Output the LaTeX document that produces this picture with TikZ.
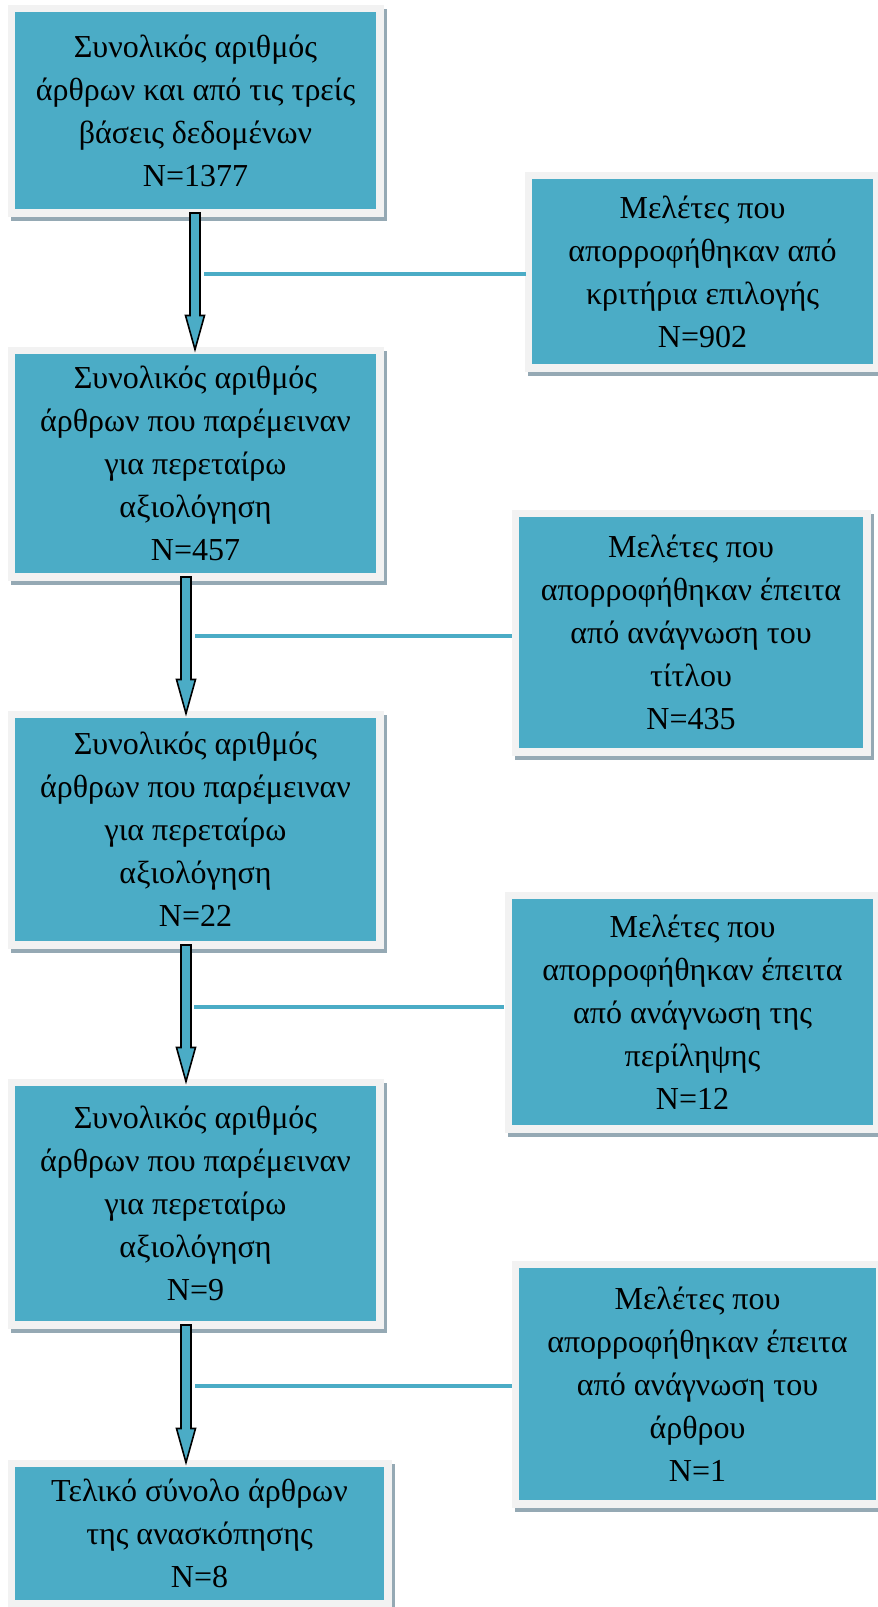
\documentclass[tikz,border=0pt]{standalone}
\usepackage{fontspec}
\setmainfont{Liberation Serif}
\usetikzlibrary{calc}
\definecolor{tealbox}{HTML}{4BACC6}
\definecolor{framegray}{HTML}{F2F2F2}
\definecolor{shadowc}{HTML}{95A9B4}
\begin{document}
\begin{tikzpicture}[x=1pt,y=-1pt,
  box/.style={rectangle, inner sep=0pt, outer sep=0pt, fill=tealbox, align=center,
    font=\fontsize{32}{43}\selectfont,
    preaction={fill=shadowc, draw=shadowc, line width=15pt, transform canvas={shift={(3.5pt,-4.5pt)}}},
    preaction={draw=framegray, line width=15pt}},
  barrow/.style={fill=tealbox, draw=black, line width=1.6pt, line join=miter},
  link/.style={draw=tealbox, line width=3.6pt}]
\useasboundingbox (0,0) rectangle (878,1607);
\fill[white] (0,0) rectangle (878,1607);

% left column
\node[box, minimum width=361pt, minimum height=197pt] (L1) at (195.5,110.5)
  {Συνολικός αριθμός\\άρθρων και από τις τρείς\\βάσεις δεδομένων\\N=1377};
\node[box, minimum width=361pt, minimum height=219pt] (L2) at (195.5,463.5)
  {Συνολικός αριθμός\\άρθρων που παρέμειναν\\για περεταίρω\\αξιολόγηση\\N=457};
\node[box, minimum width=361pt, minimum height=223pt] (L3) at (195.5,829.5)
  {Συνολικός αριθμός\\άρθρων που παρέμειναν\\για περεταίρω\\αξιολόγηση\\N=22};
\node[box, minimum width=361pt, minimum height=235pt] (L4) at (195.5,1203.5)
  {Συνολικός αριθμός\\άρθρων που παρέμειναν\\για περεταίρω\\αξιολόγηση\\N=9};
\node[box, minimum width=369pt, minimum height=133pt] (L5) at (199.5,1533.5)
  {Τελικό σύνολο άρθρων\\της ανασκόπησης\\N=8};

% right column
\node[box, minimum width=341pt, minimum height=185pt] (R1) at (702.5,271.5)
  {Μελέτες που\\απορροφήθηκαν από\\κριτήρια επιλογής\\N=902};
\node[box, minimum width=344pt, minimum height=231pt] (R2) at (691,632.5)
  {Μελέτες που\\απορροφήθηκαν έπειτα\\από ανάγνωση του\\τίτλου\\N=435};
\node[box, minimum width=361pt, minimum height=226pt] (R3) at (692.5,1012)
  {Μελέτες που\\απορροφήθηκαν έπειτα\\από ανάγνωση της\\περίληψης\\N=12};
\node[box, minimum width=357pt, minimum height=232pt] (R4) at (697.5,1384)
  {Μελέτες που\\απορροφήθηκαν έπειτα\\από ανάγνωση του\\άρθρου\\N=1};

% block arrows between left boxes
\newcommand{\blockarr}[3]{%
  \draw[barrow] let \p1=(#1.south), \p2=(#2.north) in
    (#3pt-5pt,\y1-4pt) -- (#3pt+5pt,\y1-4pt) -- (#3pt+5pt,\y2+38.5pt)
    -- (#3pt+9.5pt,\y2+38.5pt) -- (#3pt,\y2+4.5pt) -- (#3pt-9.5pt,\y2+38.5pt)
    -- (#3pt-5pt,\y2+38.5pt) -- cycle;}
\blockarr{L1}{L2}{195}
\blockarr{L2}{L3}{186}
\blockarr{L3}{L4}{186}
\blockarr{L4}{L5}{186}

% exclusion connectors
\coordinate (c1) at (204,274);
\coordinate (c2) at (195,636);
\coordinate (c3) at (194,1007);
\coordinate (c4) at (195,1386);
\draw[link] (c1) -- ([xshift=-6pt]c1 -| R1.west);
\draw[link] (c2) -- ([xshift=-7pt]c2 -| R2.west);
\draw[link] (c3) -- ([xshift=-8pt]c3 -| R3.west);
\draw[link] (c4) -- ([xshift=-7pt]c4 -| R4.west);
\end{tikzpicture}
\end{document}
